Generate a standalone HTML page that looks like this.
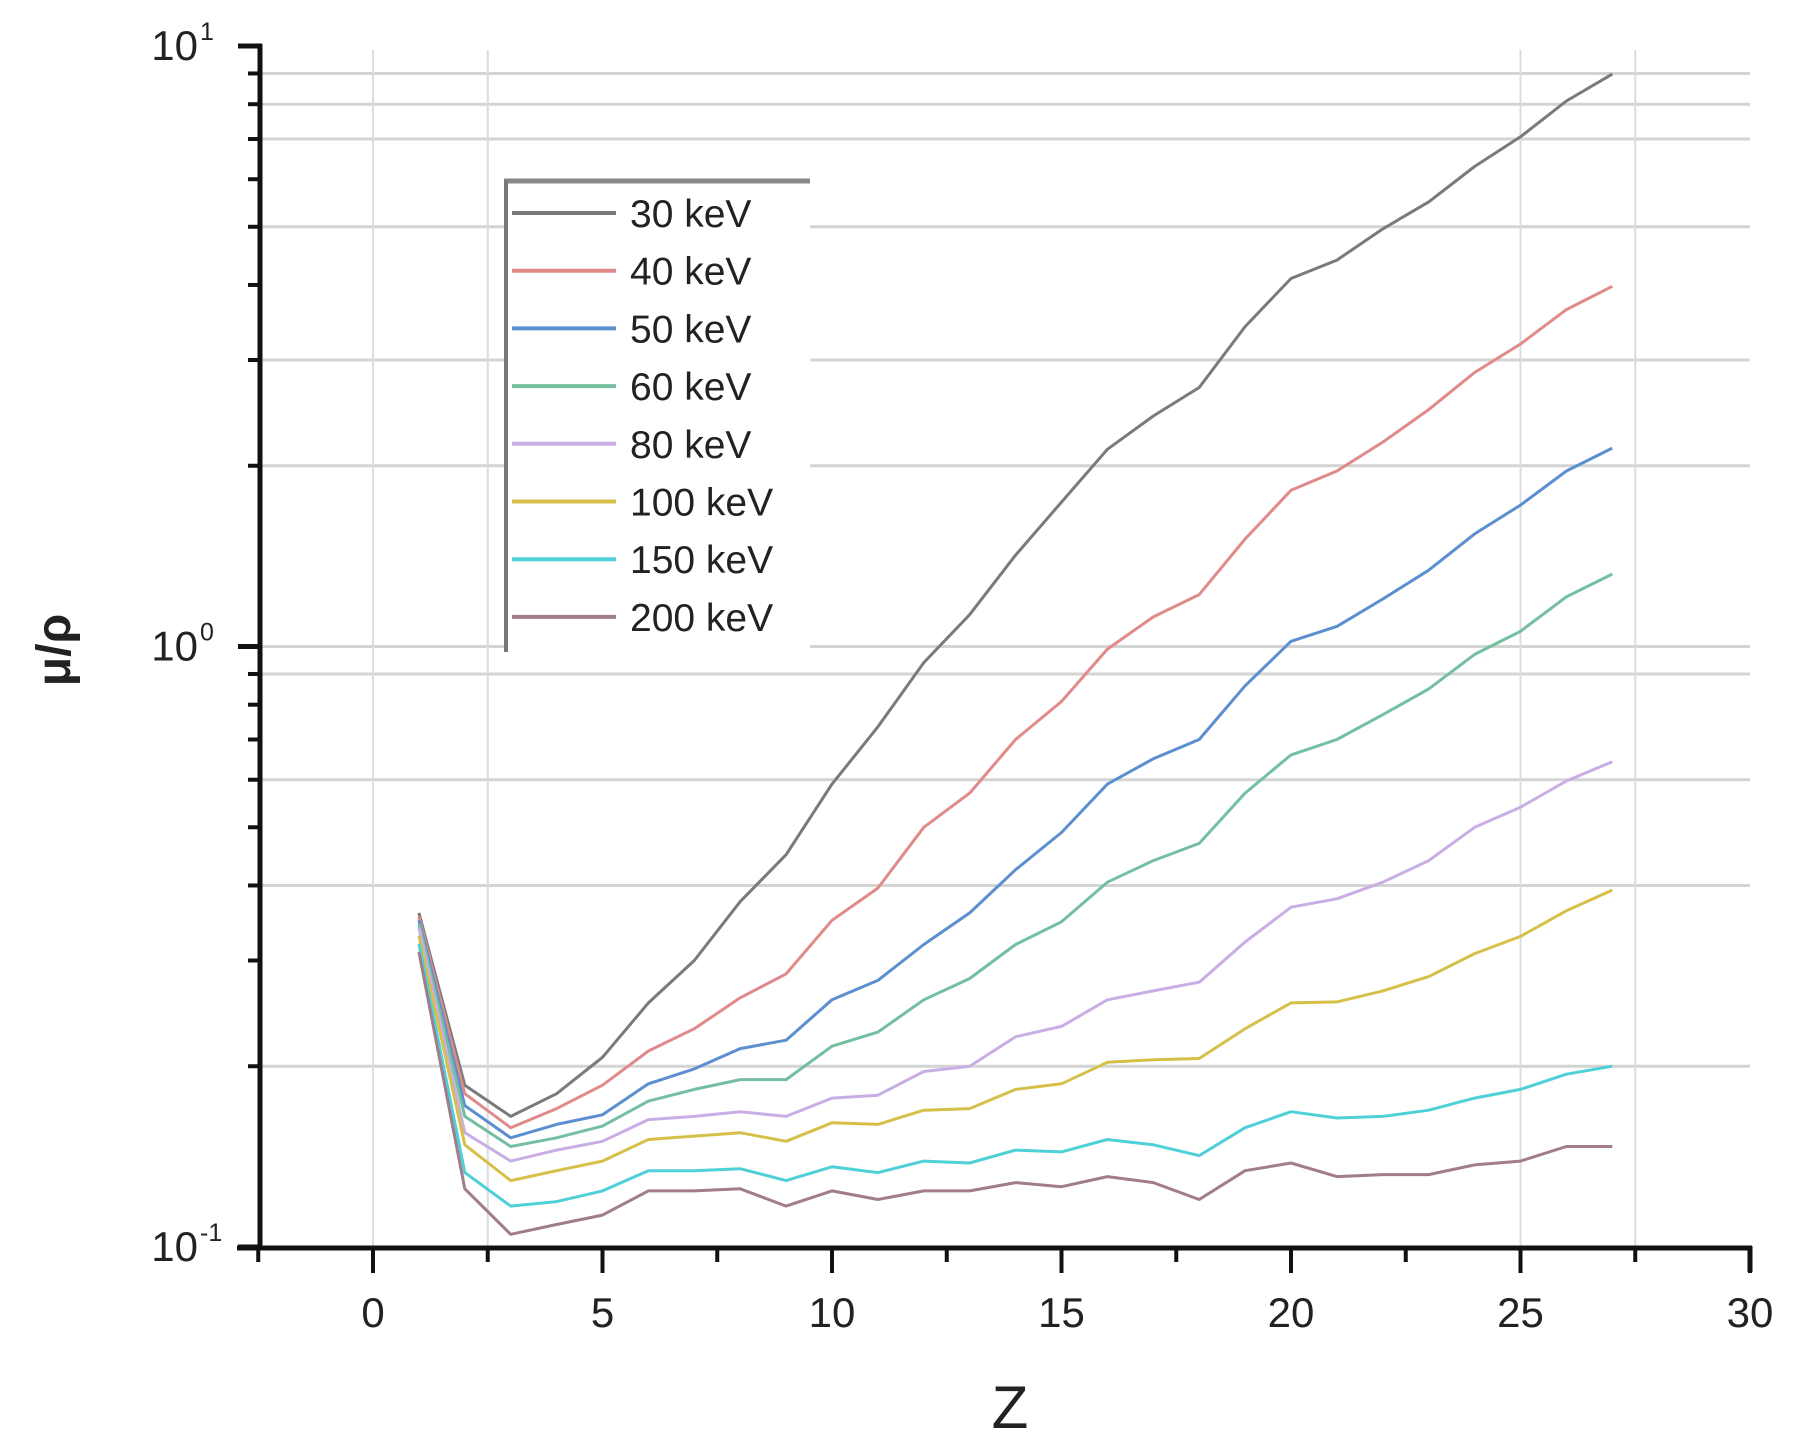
<!DOCTYPE html>
<html><head><meta charset="utf-8"><style>
html,body{margin:0;padding:0;background:#fff;}
svg{display:block;font-family:"Liberation Sans",sans-serif;}
</style></head><body>
<svg id="chart" width="1803" height="1450" viewBox="0 0 1803 1450" xmlns="http://www.w3.org/2000/svg">
<g id="grid"></g>
<g id="series"></g>
<g id="axes"></g>
<g id="legend"></g>
<text x="1010" y="1428" font-size="60" text-anchor="middle" fill="#222">Z</text>
<text x="70" y="650" font-size="48" font-weight="bold" text-anchor="middle" fill="#222" transform="rotate(-90 70 650)">μ/ρ</text>
</svg>
<script>
const zValues = [1,2,3,4,5,6,7,8,9,10,11,12,13,14,15,16,17,18,19,20,21,22,23,24,25,26,27];
const seriesNames = ["30 keV","40 keV","50 keV","60 keV","80 keV","100 keV","150 keV","200 keV"];
const s30 = [0.36,0.186,0.165,0.18,0.207,0.255,0.30,0.376,0.45,0.59,0.735,0.94,1.13,1.42,1.74,2.13,2.42,2.70,3.41,4.1,4.4,4.96,5.5,6.3,7.06,8.1,8.98];
const s40 = [0.355,0.18,0.158,0.17,0.186,0.212,0.231,0.26,0.285,0.35,0.396,0.50,0.57,0.70,0.81,0.99,1.12,1.22,1.51,1.82,1.96,2.19,2.48,2.86,3.19,3.64,3.98];
const s50 = [0.35,0.172,0.152,0.16,0.166,0.187,0.198,0.214,0.221,0.258,0.278,0.319,0.36,0.425,0.49,0.59,0.65,0.70,0.86,1.02,1.08,1.20,1.34,1.54,1.72,1.96,2.14];
const s60 = [0.345,0.165,0.147,0.152,0.159,0.175,0.183,0.19,0.19,0.216,0.228,0.258,0.28,0.319,0.348,0.405,0.44,0.47,0.57,0.66,0.70,0.77,0.85,0.97,1.06,1.21,1.32];
const s80 = [0.34,0.155,0.139,0.145,0.15,0.163,0.165,0.168,0.165,0.177,0.179,0.196,0.2,0.224,0.233,0.258,0.267,0.276,0.322,0.368,0.38,0.405,0.44,0.50,0.54,0.597,0.643];
const s100 = [0.33,0.148,0.129,0.134,0.139,0.151,0.153,0.155,0.15,0.161,0.16,0.169,0.17,0.183,0.187,0.203,0.205,0.206,0.231,0.255,0.256,0.267,0.282,0.308,0.329,0.363,0.393];
const s150 = [0.32,0.133,0.117,0.119,0.124,0.134,0.134,0.135,0.129,0.136,0.133,0.139,0.138,0.145,0.144,0.151,0.148,0.142,0.158,0.168,0.164,0.165,0.169,0.177,0.183,0.194,0.2];
const s200 = [0.31,0.125,0.105,0.109,0.113,0.124,0.124,0.125,0.117,0.124,0.12,0.124,0.124,0.128,0.126,0.131,0.128,0.12,0.134,0.138,0.131,0.132,0.132,0.137,0.139,0.147,0.147];
const xTicks = [0,5,10,15,20,25,30];
const yDecades = [1,0,-1];
const hGridValues = [9,8,7,5,3,2,1,0.9,0.6,0.4,0.2];
const vGridValues = [0,2.5,25,27.5];

const colors = ["#7a7a7a","#e08a8a","#5b8fd0","#74bfa0","#c9aee6","#d6c04a","#4fd0d8","#a07c8c"];
const allSeries = [s30,s40,s50,s60,s80,s100,s150,s200];
const NS="http://www.w3.org/2000/svg";
const X0=373, XS=(1750-373)/30, YTOP=46, DEC=600.5;
function xs(v){return X0+v*XS;}
function ys(v){return YTOP+(1-Math.log10(v))*DEC;}
function mk(tag,attrs,parent){const e=document.createElementNS(NS,tag);for(const k in attrs)e.setAttribute(k,attrs[k]);parent.appendChild(e);return e;}
const grid=document.getElementById('grid'), ser=document.getElementById('series'), axes=document.getElementById('axes'), leg=document.getElementById('legend');

hGridValues.forEach(v=>{const l=mk('line',{x1:262,x2:1750,y1:ys(v),y2:ys(v),stroke:'#d4d4d4','stroke-width':3},grid);

});
vGridValues.forEach(v=>{const l=mk('line',{x1:xs(v),x2:xs(v),y1:50,y2:1246,stroke:'#dcdcdc','stroke-width':2},grid);

});

allSeries.forEach((s,i)=>{const d=s.map((v,j)=>(j?'L':'M')+xs(zValues[j]).toFixed(1)+' '+ys(v).toFixed(1)).join(' ');
const p=mk('path',{d:d,fill:'none',stroke:colors[i],'stroke-width':3,'stroke-linejoin':'round'},ser);

});

let a=mk('line',{x1:260,x2:260,y1:44,y2:1249,stroke:'#111','stroke-width':5},axes);


a=mk('line',{x1:237,x2:1752,y1:1248,y2:1248,stroke:'#111','stroke-width':5},axes);


mk('line',{x1:1750,x2:1750,y1:1246,y2:1272,stroke:'#111','stroke-width':5},axes);
xTicks.forEach(v=>{mk('line',{x1:xs(v),x2:xs(v),y1:1248,y2:1273,stroke:'#111','stroke-width':4},axes);
if(v<30) mk('line',{x1:xs(v+2.5),x2:xs(v+2.5),y1:1248,y2:1262,stroke:'#111','stroke-width':4},axes);
const t=mk('text',{x:xs(v),y:1327,'font-size':42,'text-anchor':'middle',fill:'#222'},axes);t.textContent=v;

});
mk('line',{x1:xs(-2.5),x2:xs(-2.5),y1:1248,y2:1262,stroke:'#111','stroke-width':4},axes);
yDecades.forEach(e=>{const y=ys(Math.pow(10,e));mk('line',{x1:238,x2:262,y1:y,y2:y,stroke:'#111','stroke-width':5},axes);
const t=mk('text',{x:198,y:y+14,'font-size':42,'text-anchor':'end',fill:'#222'},axes);t.textContent='10';


const sup=mk('text',{x:200,y:y-6,'font-size':25,'text-anchor':'start',fill:'#222'},axes);sup.textContent=String(e);
if(e>-1){for(let m=2;m<=9;m++){const yy=ys(m*Math.pow(10,e-1));mk('line',{x1:248,x2:262,y1:yy,y2:yy,stroke:'#111','stroke-width':4},axes);}}});

let box=mk('rect',{x:506,y:180,width:304,height:468,fill:'#fff',stroke:'none'},leg);


mk('line',{x1:504,x2:810,y1:181,y2:181,stroke:'#888','stroke-width':5},leg);
mk('line',{x1:506,x2:506,y1:180,y2:652,stroke:'#777','stroke-width':4},leg);
seriesNames.forEach((n,i)=>{const y=213+i*57.7;
const l=mk('line',{x1:512,x2:616,y1:y,y2:y,stroke:colors[i],'stroke-width':4},leg);


const t=mk('text',{x:630,y:y+14,'font-size':39,fill:'#222'},leg);t.textContent=n;

});
</script>
</body></html>
